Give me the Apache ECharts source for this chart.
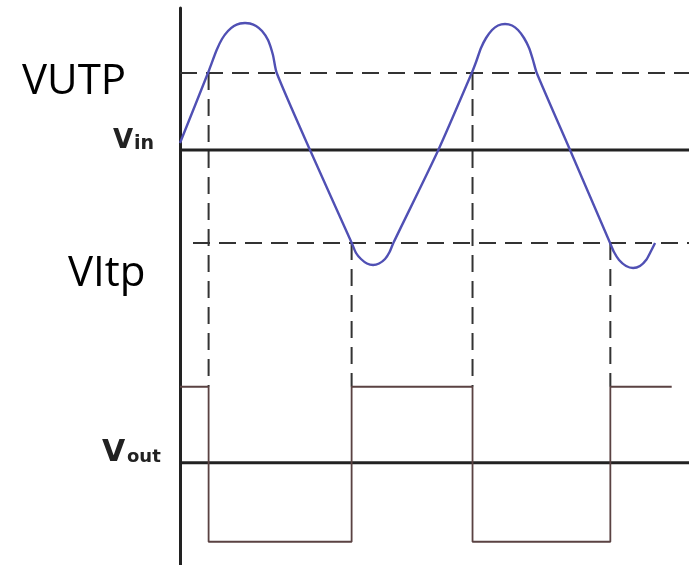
<!DOCTYPE html>
<html>
<head>
<meta charset="utf-8">
<script src="https://cdn.jsdelivr.net/npm/echarts@6/dist/echarts.min.js"></script>
<style>
html,body{margin:0;padding:0;background:#fff;}
#chart{width:689px;height:565px;}
</style>
</head>
<body>
<div id="chart"></div>
<script>
// time axis in ms, voltages in V
var timeMax = 39.15;
var vinTime = [0, 2.15, 2.82, 3.23, 3.69, 4.15, 4.62, 5.0, 5.38, 5.85, 6.31, 6.77, 7.15, 7.44, 10.0,
  13.21, 13.54, 13.92, 14.38, 14.85, 15.31, 15.77, 16.12, 16.41, 19.87,
  22.44, 22.77, 23.15, 23.54, 24.0, 24.46, 25.0, 25.54, 26.0, 26.46, 26.85, 27.15, 27.44, 30.0,
  33.08, 33.38, 33.77, 34.31, 34.85, 35.38, 35.85, 36.23, 36.54];
var vinValue = [0.28, 3.08, 4.0, 4.44, 4.76, 4.96, 5.06, 5.08, 5.06, 4.96, 4.76, 4.4, 3.8, 3.08, 0,
  -3.72, -4.12, -4.36, -4.54, -4.6, -4.54, -4.36, -4.08, -3.72, 0,
  3.08, 3.52, 4.08, 4.48, 4.8, 4.98, 5.04, 4.98, 4.8, 4.48, 4.08, 3.6, 3.08, 0,
  -3.72, -4.08, -4.4, -4.64, -4.72, -4.64, -4.4, -4.04, -3.72];
var vUTP = 3.08;
var vLTP = -3.72;
var vltpStart = 1.0;
var switchTimes = [2.2, 13.2, 22.5, 33.1];
var switchThreshold = ['UTP', 'LTP', 'UTP', 'LTP'];
var voutHigh = 3.04;
var voutLow = -3.16;
var voutEnd = 37.82;
var voutOffset = -12.51; // Vout trace drawn below Vin trace on the same axis
var yMin = -16.6, yMax = 5.68;

// build derived data
var vinData = vinTime.map(function (t, i) { return [t, vinValue[i]]; });
var level = voutHigh;
var voutData = [[0, level + voutOffset]];
switchTimes.forEach(function (t) {
  voutData.push([t, level + voutOffset]);
  level = (level === voutHigh) ? voutLow : voutHigh;
  voutData.push([t, level + voutOffset]);
});
voutData.push([voutEnd, level + voutOffset]);

var dashStyle = {color: '#333', width: 2, type: [17, 9]};
var series = [
  {type: 'line', data: [[0, 0], [timeMax, 0]], symbol: 'none', lineStyle: {color: '#222', width: 3}, z: 3},
  {type: 'line', data: [[0, voutOffset], [timeMax, voutOffset]], symbol: 'none', lineStyle: {color: '#222', width: 3}, z: 3},
  {type: 'line', data: [[0, vUTP], [timeMax, vUTP]], symbol: 'none', lineStyle: dashStyle, z: 2},
  {type: 'line', data: [[vltpStart, vLTP], [timeMax, vLTP]], symbol: 'none', lineStyle: dashStyle, z: 2}
];
switchTimes.forEach(function (t, i) {
  var th = switchThreshold[i] === 'UTP' ? vUTP : vLTP;
  series.push({type: 'line', data: [[t, th], [t, voutHigh + voutOffset]], symbol: 'none', lineStyle: dashStyle, z: 2});
});
series.push({type: 'line', data: voutData, symbol: 'none', lineStyle: {color: '#5a4242', width: 1.8}, z: 4});
series.push({type: 'line', data: vinData, symbol: 'none', smooth: 0.25, lineStyle: {color: '#5050b4', width: 2.4}, z: 5});

var chart = echarts.init(document.getElementById('chart'), null, {renderer: 'canvas'});
chart.setOption({
  animation: false,
  backgroundColor: '#fff',
  grid: {left: 180, right: 0, top: 8, bottom: 0},
  xAxis: {type: 'value', min: 0, max: timeMax, show: false},
  yAxis: {type: 'value', min: yMin, max: yMax, axisLine: {show: true, lineStyle: {color: '#222', width: 3}},
          axisTick: {show: false}, axisLabel: {show: false}, splitLine: {show: false}},
  series: series,
  graphic: [
    {type: 'text', left: 22, top: 61, style: {text: 'VUTP', font: '42px "Open Sans"', fill: '#000'}},
    {type: 'text', left: 68, top: 253, style: {text: 'VItp', font: '42px "Open Sans"', fill: '#000'}},
    {type: 'text', left: 113, top: 128, style: {text: 'V', font: 'bold 26px "DejaVu Sans"', fill: '#222'}},
    {type: 'text', left: 134, top: 135, style: {text: 'in', font: 'bold 19px "DejaVu Sans"', fill: '#222'}},
    {type: 'text', left: 102, top: 438, style: {text: 'V', font: 'bold 30px "DejaVu Sans"', fill: '#222'}},
    {type: 'text', left: 127, top: 448, style: {text: 'out', font: 'bold 18px "DejaVu Sans"', fill: '#222'}}
  ]
});
</script>
</body>
</html>
